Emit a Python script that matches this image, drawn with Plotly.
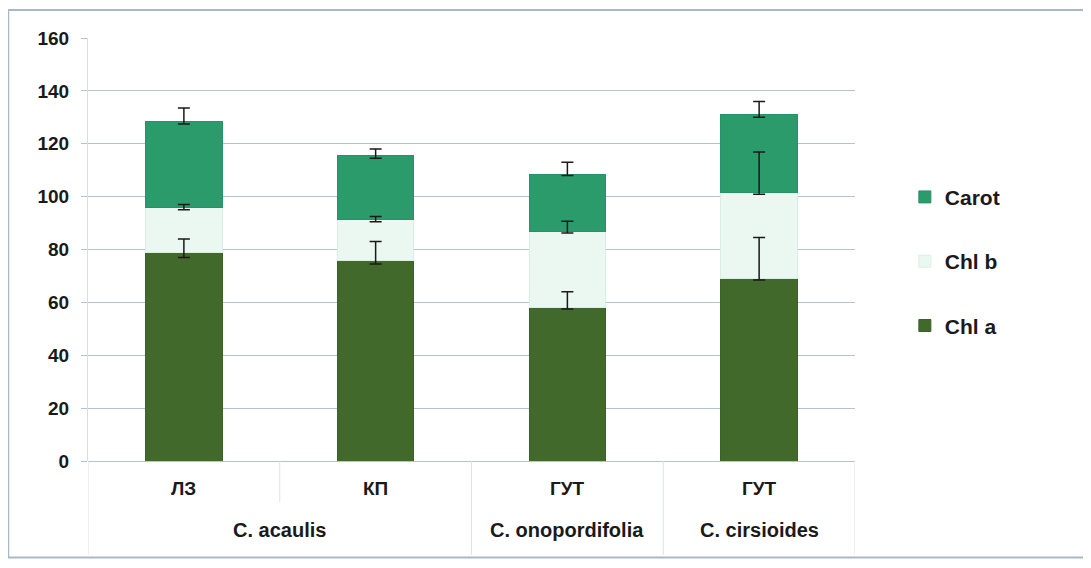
import plotly.graph_objects as go

species = ["C. acaulis", "C. acaulis", "C. onopordifolia", "C. cirsioides"]
sites = ["ЛЗ", "КП", "ГУТ", "ГУТ"]
species_labels = ["C. acaulis", "C. onopordifolia", "C. cirsioides"]
species_centers = [0.5, 2, 3]

chl_a = [79, 76, 58, 69]
chl_a_err_plus = [5, 7, 6, 15.5]
chl_a_err_minus = [2, 1.5, 0.5, 0.5]

chl_b = [17, 15.5, 28.7, 32.4]
chl_b_err_plus = [1, 1, 4, 15.5]
chl_b_err_minus = [1, 1, 0.5, 0.5]

carot = [32.5, 24, 21.8, 29.6]
carot_err_plus = [5, 2.5, 4.5, 5]
carot_err_minus = [1, 1, 0.5, 1]

x = list(range(len(sites)))
FONT = "Liberation Sans, Arial, sans-serif"

def err(p, m):
    return dict(type="data", array=p, arrayminus=m, symmetric=False,
                color="#1a1a1a", thickness=1.5, width=6)

fig = go.Figure()
fig.add_trace(go.Bar(x=x, y=chl_a, name="Chl a", legendgroup="a", legendrank=3,
                     marker=dict(color="#40692b", line=dict(color="#3a6226", width=1))))
fig.add_trace(go.Bar(x=x, y=chl_b, name="Chl b", legendgroup="b", legendrank=2,
                     marker=dict(color="#eaf8f1", line=dict(color="#d8f0e4", width=1))))
fig.add_trace(go.Bar(x=x, y=carot, name="Carot", legendgroup="c", legendrank=1,
                     marker=dict(color="#2b9b6c", line=dict(color="#27916a", width=1))))

# error bars drawn on top of all stacked segments
cum_a = chl_a
cum_b = [a + b for a, b in zip(chl_a, chl_b)]
cum_c = [a + b + c for a, b, c in zip(chl_a, chl_b, carot)]
for tops, ep, em in [(cum_a, chl_a_err_plus, chl_a_err_minus),
                     (cum_b, chl_b_err_plus, chl_b_err_minus),
                     (cum_c, carot_err_plus, carot_err_minus)]:
    fig.add_trace(go.Scatter(x=x, y=tops, mode="markers", marker=dict(size=1, opacity=0),
                             showlegend=False, hoverinfo="skip", error_y=err(ep, em)))

shapes = []
# outer frame
shapes.append(dict(type="rect", xref="paper", yref="paper", x0=-0.104, x1=1.2999, y0=-0.228, y1=1.066,
                   line=dict(color="#a9b8c6", width=2), fillcolor="rgba(0,0,0,0)", layer="below"))
# dividers
for xv, y0 in [(-0.5, -0.222), (0.5, -0.097), (1.5, -0.222), (2.5, -0.222), (3.5, -0.222)]:
    shapes.append(dict(type="line", xref="x", yref="paper", x0=xv, x1=xv, y0=0, y1=y0,
                       line=dict(color="#dde3ea", width=1)))

annotations = []
for xv, lab in zip(x, sites):
    annotations.append(dict(x=xv, y=-0.065, xref="x", yref="paper", text=lab, showarrow=False,
                            font=dict(family=FONT, size=19, color="#1a1a1a", weight="bold"),
                            yanchor="middle"))
for xv, lab in zip(species_centers, species_labels):
    annotations.append(dict(x=xv, y=-0.163, xref="x", yref="paper", text=lab, showarrow=False,
                            font=dict(family=FONT, size=20, color="#1a1a1a", weight="bold"),
                            yanchor="middle"))

fig.update_layout(
    barmode="stack",
    bargap=0.6,
    width=1083, height=560,
    margin=dict(l=80, r=236, t=30, b=107),
    paper_bgcolor="white", plot_bgcolor="white",
    font=dict(family=FONT, size=17, color="#1a1a1a"),
    showlegend=True,
    legend=dict(x=1.065, y=0.672, xanchor="left", yanchor="top", traceorder="grouped",
                tracegroupgap=34, font=dict(family=FONT, size=21, color="#1a1a1a", weight="bold"),
                itemwidth=30, bgcolor="rgba(0,0,0,0)"),
    xaxis=dict(range=[-0.5, 3.5], showticklabels=False, showgrid=False, zeroline=False,
               tickvals=x, showline=False),
    yaxis=dict(range=[0, 160], dtick=20, showgrid=True, gridcolor="#b5c3d1", gridwidth=1,
               zeroline=True, zerolinecolor="#b5c3d1", zerolinewidth=1,
               showline=True, linecolor="#d5dde5", linewidth=1,
               ticks="outside", ticklen=6, tickcolor="#b5c3d1",
               tickfont=dict(family=FONT, size=19, color="#1a1a1a", weight="bold"),
               ticklabelstandoff=8),
    shapes=shapes,
    annotations=annotations,
)

fig.write_html("out.html")
